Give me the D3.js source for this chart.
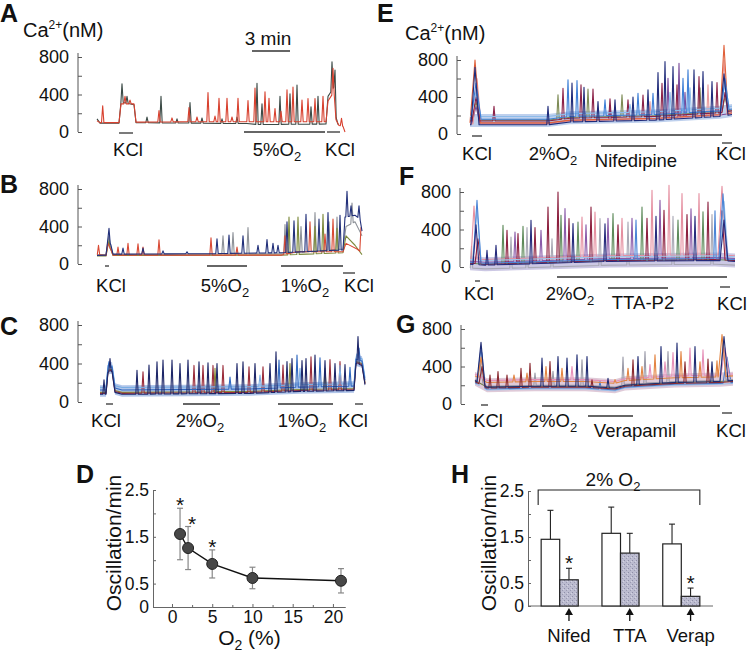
<!DOCTYPE html>
<html><head><meta charset="utf-8">
<script src="https://cdn.jsdelivr.net/npm/d3@7"></script>
<style>body{margin:0;background:#fff}text{font-family:"Liberation Sans",Arial,sans-serif;fill:#111}</style>
</head><body><svg id="c" width="750" height="656"></svg>
<script>
// ---------- DATA (time in imaging frames, 38 frames = 3 min; Ca2+ in nM) ----------
const yTicks = [0, 200, 400, 600, 800];
const scaleBarFrames = [155, 193];

// Panel A: series 0 red, 1 dark
const aBase = [
  [[0,120],[3,100],[22,100],[24,300],[37,300],[39,105],[100,110],[229,110],[231,330],[237,430],[239,130],[242,70],[246,60],[248,0]],
  [[0,140],[3,95],[22,95],[24,320],[37,290],[39,100],[150,90],[160,80],[229,85],[231,380],[237,480],[239,160],[241,80]]
];
const aSpikes = [
  [5.7,280,0],[28,380,0],[33,340,0],[62,230,0],[75,150,0],[92,260,0],[100,160,0],[111,420,0],[118,170,0],[122,360,0],[130,360,0],[135,160,0],[141,360,0],[151,335,0],[158,470,0],[168,430,0],[172,360,0],[178,250,0],[184,220,0],[190,450,0],[196,480,0],[205,340,0],[211,357,0],[218,357,0],[226,380,0],[236,680,0],[244.5,145,0],
  [25,515,1],[30,380,1],[50,160,1],[64,380,1],[80,140,1],[93,315,1],[105,150,1],[125,140,1],[140,160,1],[160,520,1],[165,300,1],[183,380,1],[193,407,1],[200,500,1],[214,270,1],[221,380,1],[235,750,1],[238,660,1]
];
const aPeriods = [[22,36],[147,228],[230,243]];
const aLabels = [["KCl",31],["5%O_2",180],["KCl",243]];

// Panel B: 0 navy, 1 red, 2 olive, 3 grey
const bBase = [
  [[0,90],[9,95],[11,280],[14,200],[16,105],[110,110],[184,120],[246,150],[248,500],[258,520],[263,480],[265,350]],
  [[0,100],[9,90],[11,220],[14,150],[16,95],[184,95],[200,130],[246,130],[249,220],[260,160],[265,120]],
  [[0,85],[9,85],[11,200],[14,150],[16,90],[184,95],[246,120],[249,300],[258,200],[265,100]],
  [[0,100],[9,100],[11,250],[14,180],[16,100],[184,110],[246,160],[249,400],[258,450],[265,300]]
];
const bSpikes = [
  [12,380,0],[26,170,0],[46,170,0],[66,140,0],[90,130,0],[120,270,0],[132,310,0],[146,300,0],[161,200,0],[170,260,0],[176,220,0],[181,200,0],[190,450,0],[197,460,0],[209,530,0],[222,480,0],[231,550,0],[243,520,0],[250,775,0],[254,620,0],[262,620,0],
  [1.5,200,1],[21,180,1],[31,220,1],[41,215,1],[46,180,1],[62,257,1],[114,280,1],[140,180,1],[188,300,1],[213,450,1],[228,320,1],[236,480,1],[264,393,1],
  [12,250,2],[192,500,2],[201,500,2],[218,400,2],[226,530,2],[240,380,2],
  [12,300,3],[126,300,3],[136,335,3],[151,390,3],[188,420,3],[204,400,3],[218,550,3],[232,450,3],[240,500,3],[255,650,3]
];
const bPeriods = [[8,12],[110,150],[184,246],[246,258]];
const bLabels = [["KCl",14],["5%O_2",128],["1%O_2",208],["KCl",262]];

// Panel C: 0 navy, 1 blue, 2 light blue, 3 maroon, 4 olive
const cBase = [[0,100],[6,100],[8,330],[12,340],[15,120],[22,100],[150,110],[200,130],[254,140],[256,420],[262,400],[265,200]];
const cLevel = [-20, 25, 50, -10, 0];
const cSpikes = [
  [4,230,0],[10,452,0],[37,330,0],[49,383,0],[57,418,0],[63,435,0],[72,435,0],[80,400,0],[88,435,0],[99,418,0],[108,407,0],[117,400,0],[137,400,0],[143,418,0],[155,400,0],[170,400,0],[176,522,0],[187,420,0],[192,452,0],[202,430,0],[206,452,0],[215,487,0],[225,430,0],[235,400,0],[245,390,0],[258,680,0],
  [9,420,1],[130,260,1],[179,435,1],[197,487,1],[220,460,1],[250,360,1],[259,560,1],
  [11,380,2],[160,280,2],[200,350,2],[240,380,2],[257,500,2],
  [43,313,3],[94,380,3],[103,380,3],[113,380,3],[123,380,3],[149,365,3],[163,365,3],[183,383,3],[211,470,3],[230,440,3],[240,420,3],
  [115,350,4],[190,400,4],[225,350,4]
];
const cPeriods = [[6,13],[83,120],[178,233],[255,263]];
const cLabels = [["KCl",6],["2%O_2",100],["1%O_2",202],["KCl",253]];

// Panel E: 0 navy,1 blue,2 light blue,3 maroon,4 orange,5 pink,6 olive,7 purple
const eBase = [[0,140],[78,140],[100,170],[185,190],[250,230],[262,250]];
const eLevel = [-40, 20, 50, 0, -20, -30, 10, -25];
const eSpikes = [
  [5,720,0,4],[5,800,4,5],[6,550,1,5],[6,450,2,5],[7,600,5,4],[6,400,3,4],[6,350,6,4],[6,300,7,4],
  [24,300,3],[78,300,0],[88,424,6],[93,495,3],[98,585,1],[102,550,0],[107,578,1],[111,531,3],[114,506,0],[118,485,6],[123,485,3],[128,352,0],[135,370,1],[140,380,3],[145,370,0],[152,424,6],[158,370,3],[163,400,0],[168,441,1],[173,420,3],[178,477,0],[183,440,1],[188,664,0],[192,549,3],[195,782,0],[198,603,7],[203,729,0],[207,531,3],[209,765,7],[213,603,1],[218,693,1],[224,693,0],[229,621,3],[233,675,0],[238,531,5],[242,567,0],[247,556,3],[200,450,2],[220,500,2],[215,450,7],[180,350,5],[230,500,6],[160,320,2],[140,300,7],
  [254,960,4,4],[254,650,0,4],[255,600,1,4],[255,550,2,4],[254,800,5,3],[255,450,3,3],[255,400,6,3]
];
const ePeriods = [[2,12],[78,252],[131,186],[252,262]];
const eLabels = [["KCl",7],["2%O_2",83],["Nifedipine",166],["KCl",261]];

// Panel F: 0 navy,1 blue,2 light blue,3 maroon,4 pink,5 green,6 purple,7 grey
const fBase = [[0,50],[15,40],[80,60],[140,80],[245,90],[265,80]];
const fLevel = [-20, 0, 30, -10, 40, -10, 10, -60];
const fSpikes = [
  [7,712,1,4],[4,650,4,3],[7,600,2,4],[6,450,0,3],[1.5,220,7],[8,300,3,3],
  [17,178,0],[26,231,0],[33,445,5],[37,392,3],[41,320,7],[45,374,6],[48,356,3],[53,434,5],[57,420,7],[61,498,0],[65,420,3],[71,392,6],[78,640,3],[82,300,7],[88,800,3],[91,552,5],[95,623,6],[99,516,3],[103,463,0],[108,480,5],[112,534,4],[116,450,6],[121,640,3],[125,587,4],[130,516,7],[135,460,0],[138,520,6],[143,570,5],[148,450,3],[152,520,4],[158,480,7],[162,520,6],[166,500,1],[172,640,5],[177,520,3],[182,818,4],[186,540,0],[190,712,6],[194,605,3],[199,872,4],[203,540,7],[208,500,5],[212,783,4],[217,560,3],[221,620,6],[225,540,0],[229,783,4],[233,590,5],[238,694,3],[242,560,7],[245,600,1],
  [252,860,4,4],[253,780,1,4],[254,700,2,4],[252,600,3,3],[254,500,0,4]
];
const fPeriods = [[5,10],[87,257],[138,198],[250,260]];
const fLabels = [["KCl",9],["2%O_2",100],["TTA-P2",173],["KCl",262]];

// Panel G: 0 navy,1 maroon,2 orange,3 pink,4 grey,5 blue,6 light blue,7 olive
const gBase = [[0,260],[12,190],[60,200],[110,200],[140,180],[150,210],[200,240],[245,250],[258,260]];
const gLevel = [-10, -20, 40, 60, 0, -30, -40, -10];
const gSpikes = [
  [6,657,0,4],[6,600,5,4],[7,550,6,3],[6,500,2,3],[5,450,4,3],[7,400,1,3],
  [15,310,1],[23,346,1],[32,310,1],[39,310,2],[46,382,1],[52,330,2],[55,435,1],[60,330,4],[67,489,0],[71,400,2],[75,453,1],[78,350,4],[83,507,0],[87,380,2],[92,489,0],[97,400,3],[102,525,0],[107,471,4],[112,507,0],[117,257,1],[125,240,5],[133,275,0],[140,260,2],[148,500,4],[153,380,2],[158,471,1],[163,507,0],[167,400,2],[170,560,4],[175,420,3],[180,525,2],[186,614,0],[190,450,3],[193,560,4],[198,550,3],[202,650,0],[206,560,2],[210,450,1],[215,596,3],[220,614,0],[225,450,2],[228,578,3],[233,480,1],[237,450,0],[242,460,2],
  [247,740,2,4],[249,720,0,4],[250,600,3,4],[248,650,4,3],[252,500,5,4]
];
const gPeriods = [[6,13],[67,245],[113,158],[247,257]];
const gLabels = [["KCl",13],["2%O_2",78],["Verapamil",160],["KCl",256]];

// Panel D
const dO2 = [1, 2, 5, 10, 21];
const dMean = [1.56, 1.26, 0.92, 0.62, 0.56];
const dErr = [0.55, 0.46, 0.30, 0.23, 0.26];
const dSig = [true, true, true, false, false];

// Panel H
const hGroups = ["Nifed", "TTA", "Verap"];
const hCtrl = [1.45, 1.58, 1.35];
const hCtrlErr = [0.63, 0.57, 0.43];
const hDrug = [0.57, 1.15, 0.21];
const hDrugErr = [0.25, 0.43, 0.18];
const hSig = [true, false, true];

// ---------- STYLES ----------
const aColors = ['#d8412f', '#3b4a46'];
const bColors = ['#22307a', '#d94a35', '#7d8a3c', '#8d9198'];
const cColors = ['#1d2668', '#3169c0', '#7aaee4', '#9a2c3a', '#8a8a3a'];
const eColors = ['#1f2b7a','#3e7fd6','#8dbbea','#8c2248','#e0603a','#e99a9a','#7d8b55','#7a4a9a'];
const fColors = ['#262b7c','#4a84d6','#9cc4ea','#8c1f3e','#e58fa0','#5d8a5a','#8a5aa8','#a8a8b4'];
const gColors = ['#1f2b72','#8a2a30','#e38442','#e690b8','#9a9aa8','#4a7ac8','#9cc0ea','#6a7a3a'];

const svg = d3.select('#c');
const defs = svg.append('defs');
const pat = defs.append('pattern').attr('id', 'speck').attr('width', 4).attr('height', 4).attr('patternUnits', 'userSpaceOnUse');
pat.append('rect').attr('width', 4).attr('height', 4).attr('fill', '#bcbcd0');
pat.append('rect').attr('x', 0).attr('y', 0).attr('width', 1).attr('height', 1).attr('fill', '#8e8ea8');
pat.append('rect').attr('x', 2).attr('y', 2).attr('width', 1).attr('height', 1).attr('fill', '#9a9ab2');
pat.append('rect').attr('x', 3).attr('y', 1).attr('width', 1).attr('height', 1).attr('fill', '#d4d4e2');

const sub = s => s.replace(/_(\w)/, '<tspan dy="5" font-size="13">$1</tspan>');

function txt(x, y, s, size, opts = {}) {
  const t = svg.append('text').attr('x', x).attr('y', y).attr('font-size', size)
    .attr('text-anchor', opts.anchor || 'start');
  if (opts.bold) t.attr('font-weight', 'bold');
  if (opts.rotate) t.attr('transform', `rotate(-90,${x},${y})`);
  t.html(sub(s));
  return t;
}

function makeBaseAt(knots) {
  return f => {
    if (f <= knots[0][0]) return knots[0][1];
    for (let i = 1; i < knots.length; i++) {
      if (f <= knots[i][0]) {
        const [f0, v0] = knots[i-1], [f1, v1] = knots[i];
        return v0 + (v1 - v0) * (f - f0) / (f1 - f0);
      }
    }
    return knots[knots.length-1][1];
  };
}

function traceLine(base, spikes, x, y, color, g) {
  const baseAt = makeBaseAt(base);
  const start = base[0][0], end = base[base.length-1][0];
  let pts = base.filter(([f]) => !spikes.some(d => Math.abs(f - d[0]) < (d[3] || 1.2)));
  spikes.forEach(d => {
    const w = d[3] || 1.2;
    pts.push([d[0]-w, baseAt(d[0]-w)], [d[0], d[1]], [d[0]+w, baseAt(d[0]+w)]);
  });
  pts = pts.filter(p => p[0] >= start && p[0] <= end).sort((a, b) => a[0] - b[0]);
  g.append('path').attr('d', d3.line().x(d => x(d[0])).y(d => y(d[1]))(pts))
    .attr('fill', 'none').attr('stroke', color).attr('stroke-width', 1.1)
    .attr('stroke-linejoin', 'round');
}

function tracePanel(p) {
  const x = d3.scaleLinear().domain([0, p.n]).range([p.x0, p.x0 + p.n]);
  const y = d3.scaleLinear().domain([0, 800]).range([p.yZero, p.y800]);
  const ax = svg.append('g').attr('transform', `translate(${p.axisX},0)`)
    .call(d3.axisLeft(y).tickValues(yTicks).tickFormat(d => d % 400 === 0 ? d : '')
      .tickSize(-4).tickSizeOuter(0).tickPadding(9));
  ax.attr('font-size', 18).attr('font-family', '"Liberation Sans",Arial,sans-serif').attr('color', '#555');
  ax.selectAll('text').style('fill', '#111');
  ax.select('.domain').attr('d', `M0,${p.yZero}V${p.y800 - 4}`);
  const g = svg.append('g');
  if (p.band) {
    // band spanning the resting levels of all cells
    const lo = d3.min(p.band.levels) - 25, hi = d3.max(p.band.levels) + 25;
    g.append('path').attr('d', d3.area().x(d => x(d[0])).y0(d => y(d[1] + lo)).y1(d => y(d[1] + hi))(p.band.base))
      .attr('fill', p.band.color).attr('opacity', 0.45);
  }
  const order = p.colors.map((c, i) => i).reverse();
  order.forEach(s => {
    traceLine(p.bases[s], p.spikes.filter(d => d[2] === s), x, y, p.colors[s], g);
  });
  p.periods.forEach((pr, i) => {
    svg.append('line').attr('x1', x(pr[0])).attr('x2', x(pr[1]))
      .attr('y1', p.barY[i]).attr('y2', p.barY[i]).attr('stroke', '#333').attr('stroke-width', 1.3);
  });
  p.labels.forEach((lb, i) => txt(x(lb[1]), p.labelY[i], lb[0], 18.5, {anchor: 'middle'}));
  return x;
}

const shared = (base, lev) => lev.map(l => base.map(([f, v]) => [f, v + l]));

const xA = tracePanel({x0:97, n:248, yZero:132, y800:57, axisX:78, colors:aColors, bases:aBase, spikes:aSpikes,
  periods:aPeriods, barY:[133,132,132], labels:aLabels, labelY:[156,156,156]});
tracePanel({x0:97, n:265, yZero:264, y800:189, axisX:78, colors:bColors, bases:bBase, spikes:bSpikes,
  periods:bPeriods, barY:[266,266,266,273], labels:bLabels, labelY:[292,292,292,292]});
tracePanel({x0:100, n:265, yZero:402, y800:325, axisX:78, colors:cColors, bases:shared(cBase, cLevel), spikes:cSpikes,
  band:{base:cBase, levels:cLevel, color:'#4f7fcf'},
  periods:cPeriods, barY:[404,404,404,404], labels:cLabels, labelY:[427,427,427,427]});
tracePanel({x0:470, n:262, yZero:134, y800:60, axisX:457, colors:eColors, bases:shared(eBase, eLevel), spikes:eSpikes,
  band:{base:eBase, levels:eLevel, color:'#6f96d8'},
  periods:ePeriods, barY:[136,135,146,143], labels:eLabels, labelY:[160,160,167,160]});
tracePanel({x0:470, n:265, yZero:267, y800:192, axisX:460, colors:fColors, bases:shared(fBase, fLevel), spikes:fSpikes,
  band:{base:fBase, levels:fLevel, color:'#8e86c4'},
  periods:fPeriods, barY:[281,277,288,287], labels:fLabels, labelY:[300,300,309,310]});
tracePanel({x0:475, n:258, yZero:404, y800:329, axisX:461, colors:gColors, bases:shared(gBase, gLevel), spikes:gSpikes,
  band:{base:gBase, levels:gLevel, color:'#b98aa8'},
  periods:gPeriods, barY:[405,406,416,413], labels:gLabels, labelY:[427,427,437,437]});

// scale bar
svg.append('line').attr('x1', xA(scaleBarFrames[0])).attr('x2', xA(scaleBarFrames[1]))
  .attr('y1', 51).attr('y2', 51).attr('stroke', '#333').attr('stroke-width', 1.3);
txt((xA(scaleBarFrames[0]) + xA(scaleBarFrames[1])) / 2 - 3, 45, '3 min', 19, {anchor: 'middle'});

// panel letters & Ca labels
[['A',0,22],['B',0,193],['C',0,335],['D',76,483],['E',377,22],['F',399,185],['G',396,333],['H',451,483]]
  .forEach(([l, x, y]) => txt(x, y, l, 25, {bold: true}));
svg.append('text').attr('x', 23).attr('y', 37).attr('font-size', 20)
  .html('Ca<tspan dy="-8" font-size="12">2+</tspan><tspan dy="8">(nM)</tspan>');
svg.append('text').attr('x', 405).attr('y', 40).attr('font-size', 20)
  .html('Ca<tspan dy="-8" font-size="12">2+</tspan><tspan dy="8">(nM)</tspan>');

// ---------- Panel D ----------
const xD = d3.scaleLinear().domain([-2.36, 21.5]).range([153, 345]);
const yD = d3.scaleLinear().domain([0, 2.5]).range([607, 490]);
function styleAxis(a) {
  a.attr('font-size', 17.5).attr('font-family', '"Liberation Sans",Arial,sans-serif').attr('color', '#666');
  a.selectAll('text').style('fill', '#111');
}
const yTickD = [0, 0.5, 1, 1.5, 2, 2.5];
const yLabD = [0, 0.5, 1.5, 2.5];
styleAxis(svg.append('g').attr('transform', 'translate(153,0)')
  .call(d3.axisLeft(yD).tickValues(yTickD).tickFormat(d => yLabD.includes(d) ? d : '').tickSize(-3).tickSizeOuter(0).tickPadding(4)));
styleAxis(svg.append('g').attr('transform', 'translate(0,607)')
  .call(d3.axisBottom(xD).tickValues([0,5,10,15,20]).tickSize(-3).tickSizeOuter(0).tickPadding(4)));
styleAxis(svg.append('g').attr('transform', 'translate(0,607)')
  .call(d3.axisBottom(xD).tickValues([2.5,7.5,12.5,17.5]).tickFormat('').tickSize(-2).tickSizeOuter(0)));
dO2.forEach((o, i) => {
  const cx = xD(o);
  svg.append('line').attr('x1', cx).attr('x2', cx).attr('y1', yD(dMean[i] + dErr[i])).attr('y2', yD(dMean[i] - dErr[i]))
    .attr('stroke', '#888').attr('stroke-width', 1.2);
  [dMean[i] + dErr[i], dMean[i] - dErr[i]].forEach(v => svg.append('line').attr('x1', cx - 3).attr('x2', cx + 3)
    .attr('y1', yD(v)).attr('y2', yD(v)).attr('stroke', '#888').attr('stroke-width', 1.2));
});
svg.append('path').attr('d', d3.line().x((d, i) => xD(dO2[i])).y(d => yD(d))(dMean))
  .attr('fill', 'none').attr('stroke', '#111').attr('stroke-width', 1.4);
svg.selectAll('circle.d').data(dMean).enter().append('circle')
  .attr('cx', (d, i) => xD(dO2[i])).attr('cy', d => yD(d)).attr('r', 5.5)
  .attr('fill', '#474747').attr('stroke', '#222').attr('stroke-width', 1);
dSig.forEach((s, i) => { if (s) txt(xD(dO2[i]) + (i === 1 ? 4 : 0), yD(dMean[i] + dErr[i]) + 4, '*', 21, {anchor: 'middle'}); });
txt(121, 543, 'Oscillation/min', 21, {anchor: 'middle', rotate: true});
svg.append('text').attr('x', xD(10) - 3).attr('y', 645).attr('font-size', 21).attr('text-anchor', 'middle')
  .html('O<tspan dy="5" font-size="14">2</tspan><tspan dy="-5"> (%)</tspan>');

// ---------- Panel H ----------
const xH = d3.scaleBand().domain(hGroups).range([529, 712]).paddingInner(0.39).paddingOuter(0.2);
const yH = d3.scaleLinear().domain([0, 2.5]).range([606, 491]);
const bw = xH.bandwidth() / 2;
styleAxis(svg.append('g').attr('transform', 'translate(528,0)')
  .call(d3.axisLeft(yH).tickValues(yTickD).tickFormat(d => yLabD.includes(d) ? d : '').tickSize(-3).tickSizeOuter(0).tickPadding(4)));
svg.append('line').attr('x1', 528).attr('x2', 713).attr('y1', 606).attr('y2', 606).attr('stroke', '#666');
hGroups.forEach((gname, i) => {
  const x0 = xH(gname);
  [[x0, hCtrl[i], hCtrlErr[i]], [x0 + bw, hDrug[i], hDrugErr[i]]].forEach(([bx, v, e]) => {
    const cx = bx + bw / 2;
    svg.append('line').attr('x1', cx).attr('x2', cx).attr('y1', yH(v)).attr('y2', yH(v + e)).attr('stroke', '#222').attr('stroke-width', 1.1);
    svg.append('line').attr('x1', cx - 3).attr('x2', cx + 3).attr('y1', yH(v + e)).attr('y2', yH(v + e)).attr('stroke', '#222').attr('stroke-width', 1.1);
  });
  svg.append('rect').attr('x', x0).attr('y', yH(hCtrl[i])).attr('width', bw).attr('height', yH(0) - yH(hCtrl[i]))
    .attr('fill', '#fff').attr('stroke', '#222').attr('stroke-width', 1.2);
  svg.append('rect').attr('x', x0 + bw).attr('y', yH(hDrug[i])).attr('width', bw).attr('height', yH(0) - yH(hDrug[i]))
    .attr('fill', 'url(#speck)').attr('stroke', '#222').attr('stroke-width', 1.2);
  const cx = x0 + bw * 1.5;
  if (hSig[i]) txt(cx, yH(hDrug[i] + hDrugErr[i]) + 2, '*', 21, {anchor: 'middle'});
  svg.append('line').attr('x1', cx).attr('x2', cx).attr('y1', 614).attr('y2', 621).attr('stroke', '#111').attr('stroke-width', 1.3);
  svg.append('path').attr('d', `M${cx},608L${cx-4},615L${cx+4},615Z`).attr('fill', '#111');
  txt(cx, 642, gname, 18.5, {anchor: 'middle'});
});
const brL = xH(hGroups[0]) - 3, brR = xH(hGroups[2]) + 2 * bw;
svg.append('path').attr('d', `M${brL},505V490H${brR}V505`).attr('fill', 'none').attr('stroke', '#222').attr('stroke-width', 1.1);
svg.append('text').attr('x', (brL + brR) / 2 - 6).attr('y', 486).attr('font-size', 19).attr('text-anchor', 'middle')
  .html('2% O<tspan dy="5" font-size="13">2</tspan>');
txt(496, 543, 'Oscillation/min', 21, {anchor: 'middle', rotate: true});
</script></body></html>
